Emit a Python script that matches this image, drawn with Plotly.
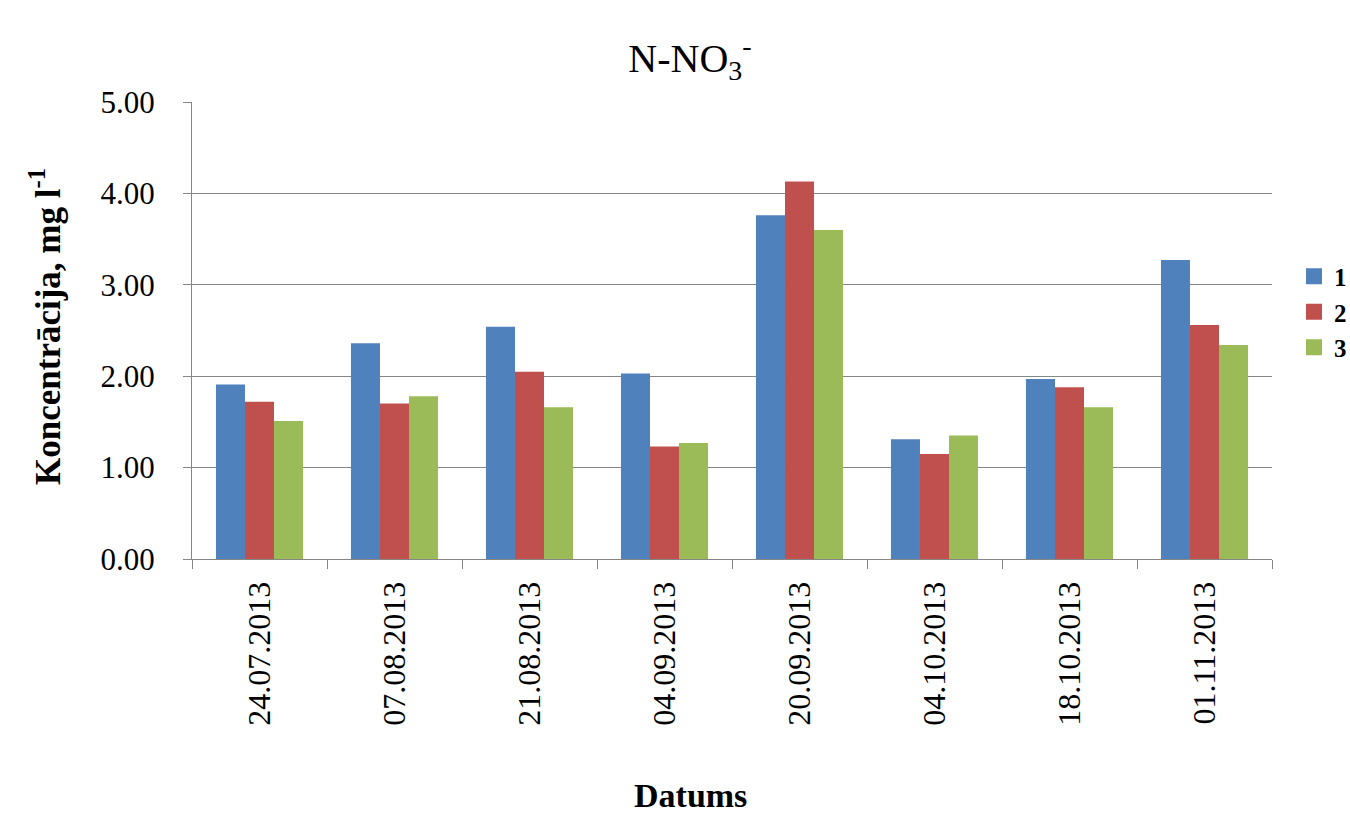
import plotly.graph_objects as go

dates = ["24.07.2013", "07.08.2013", "21.08.2013", "04.09.2013",
         "20.09.2013", "04.10.2013", "18.10.2013", "01.11.2013"]
series_names = ["1", "2", "3"]
s1 = [1.91, 2.36, 2.54, 2.03, 3.76, 1.31, 1.97, 3.27]
s2 = [1.72, 1.70, 2.05, 1.23, 4.13, 1.15, 1.88, 2.56]
s3 = [1.51, 1.78, 1.66, 1.27, 3.60, 1.35, 1.66, 2.34]
colors = ["#4F81BD", "#C0504D", "#9BBB59"]
y_ticks = [0, 1, 2, 3, 4, 5]
y_tick_text = ["0.00", "1.00", "2.00", "3.00", "4.00", "5.00"]

FONT = "Liberation Serif"
PL, PR, PT, PB = 192, 1272, 102, 559
W, H = 1350, 815

fig = go.Figure()
for name, vals, col in zip(series_names, [s1, s2, s3], colors):
    fig.add_trace(go.Bar(x=dates, y=vals, name=name, marker_color=col,
                         marker_line_width=0, showlegend=False,
                         legendgroup=name))
    # legend proxy with a larger square symbol
    fig.add_trace(go.Scatter(x=[None], y=[None], mode="markers", name=name,
                             legendgroup=name, showlegend=True,
                             marker=dict(symbol="square", size=18, color=col)))

fig.update_layout(
    width=W, height=H,
    margin=dict(l=PL, r=W - PR, t=PT, b=H - PB, autoexpand=False),
    paper_bgcolor="white", plot_bgcolor="white",
    barmode="group", bargap=0.355, bargroupgap=0,
    font=dict(family=FONT, color="black", size=20),
    title=dict(text="N-NO<sub>3</sub><sup>-</sup>", x=690 / W, xanchor="center",
               y=1 - 58 / H, yanchor="middle",
               font=dict(family=FONT, size=40, color="black")),
    legend=dict(x=(1294 - PL) / (PR - PL), xanchor="left",
                y=(PB - 312) / (PB - PT), yanchor="middle",
                font=dict(family=FONT, size=25, color="black", weight="bold"),
                itemwidth=30, tracegroupgap=0, bgcolor="rgba(0,0,0,0)"),
    showlegend=True,
)
fig.update_xaxes(
    type="category", tickangle=-90, showline=True, linecolor="#868686",
    linewidth=1, ticks="outside", tickson="boundaries", ticklen=9,
    tickcolor="#868686", showgrid=False, ticklabelstandoff=9,
    tickfont=dict(family=FONT, size=32, color="black"),
)
fig.update_yaxes(
    range=[0, 5], tickvals=y_ticks, ticktext=y_tick_text,
    showline=True, linecolor="#868686", linewidth=1,
    ticks="outside", ticklen=8, tickcolor="#868686",
    showgrid=True, gridcolor="#868686", gridwidth=1,
    ticklabelstandoff=22, zeroline=False,
    tickfont=dict(family=FONT, size=31, color="black"),
)
fig.add_annotation(text="<b>Koncentrācija, mg l<sup>-1</sup></b>",
                   xref="paper", yref="paper", textangle=-90,
                   x=(45 - PL) / (PR - PL), y=(PB - 327) / (PB - PT),
                   xanchor="center", yanchor="middle", showarrow=False,
                   font=dict(family=FONT, size=35, color="black"))
fig.add_annotation(text="<b>Datums</b>", xref="paper", yref="paper",
                   x=(690 - PL) / (PR - PL), y=-(795 - PB) / (PB - PT),
                   xanchor="center", yanchor="middle", showarrow=False,
                   font=dict(family=FONT, size=34, color="black"))

fig.write_html("out.html")
